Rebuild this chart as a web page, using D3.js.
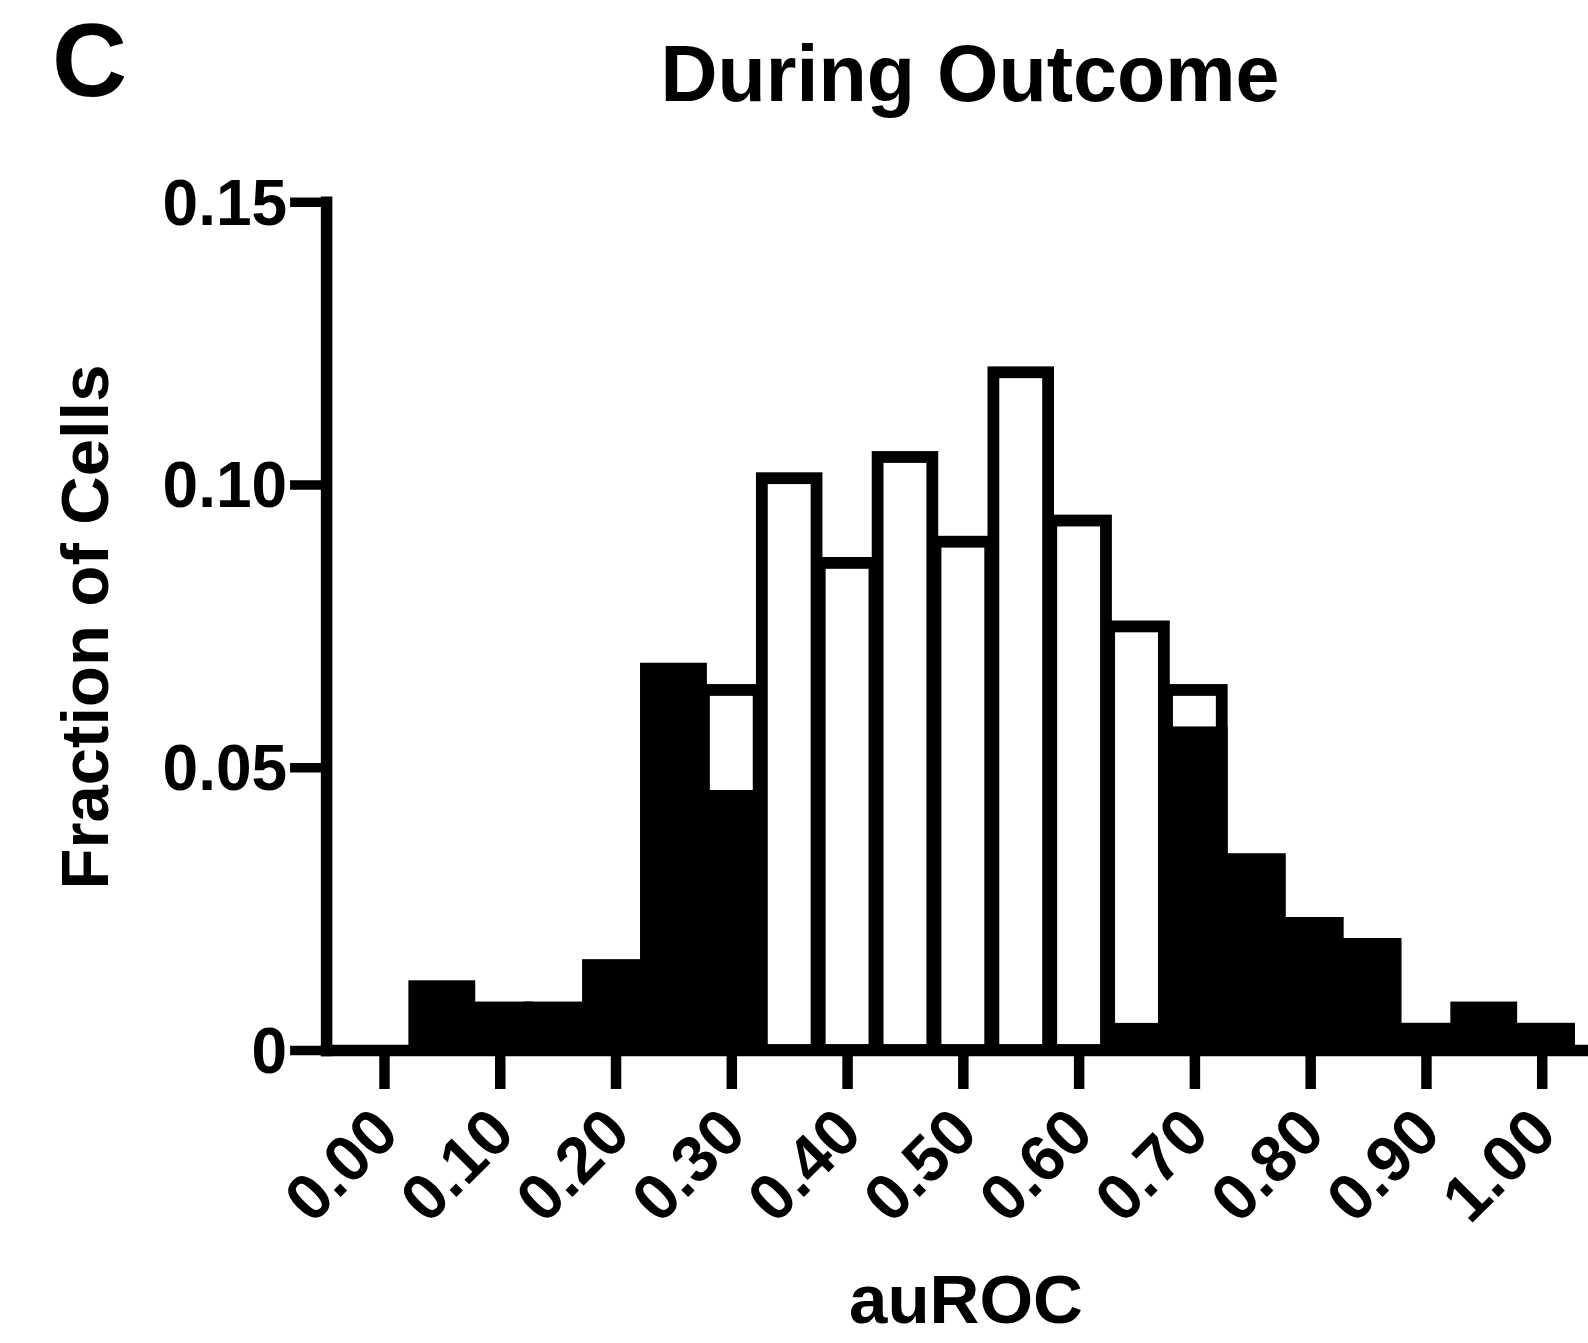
<!DOCTYPE html>
<html>
<head>
<meta charset="utf-8">
<script src="https://cdn.jsdelivr.net/npm/d3@7"></script>
<style>
  html, body { margin: 0; padding: 0; background: #fff; }
  svg { display: block; }
  text { font-family: "Liberation Sans", Arial, Helvetica, sans-serif; font-weight: bold; fill: #000; }
</style>
</head>
<body>
<script>
// ---- Data ----
const binCenters = [0.00, 0.05, 0.10, 0.15, 0.20, 0.25, 0.30, 0.35, 0.40, 0.45, 0.50,
                    0.55, 0.60, 0.65, 0.70, 0.75, 0.80, 0.85, 0.90, 0.95, 1.00];
// All cells (open bars)
const allCells = [0, 0.01124, 0.00749, 0.00749, 0.01498, 0.06742, 0.06367, 0.10112, 0.08614, 0.10487, 0.08989,
                  0.11985, 0.09363, 0.07491, 0.06367, 0.03371, 0.02247, 0.01873, 0.00375, 0.00749, 0.00375];
// Significant cells (filled bars)
const sigCells = [0, 0.01124, 0.00749, 0.00749, 0.01498, 0.06742, 0.04494, 0, 0, 0, 0,
                  0, 0, 0.00375, 0.05618, 0.03371, 0.02247, 0.01873, 0.00375, 0.00749, 0.00375];
const xTickValues = [0.0, 0.1, 0.2, 0.3, 0.4, 0.5, 0.6, 0.7, 0.8, 0.9, 1.0];
const xTickLabels = ["0.00", "0.10", "0.20", "0.30", "0.40", "0.50", "0.60", "0.70", "0.80", "0.90", "1.00"];
const yTickValues = [0, 0.05, 0.10, 0.15];
const yTickLabels = ["0", "0.05", "0.10", "0.15"];
const titleText = "During Outcome";
const panelLetter = "C";
const xLabel = "auROC";
const yLabel = "Fraction of Cells";

// ---- Layout ----
const W = 1588, H = 1343;
const svg = d3.select("body").append("svg").attr("width", W).attr("height", H);

const x = d3.scaleLinear().domain([-0.05, 1.05]).range([326.1, 1599.6]);
const y = d3.scaleLinear().domain([0, 0.15]).range([1050, 201.8]);

const binW = 0.05 * 0.945;
const barStroke = 11.8;

function drawBars(values, fill) {
  const data = binCenters.map((c, i) => ({ c, v: values[i] })).filter(d => d.v > 0);
  svg.append("g").selectAll("rect").data(data).join("rect")
    .attr("x", d => x(d.c - binW / 2))
    .attr("width", d => x(d.c + binW / 2) - x(d.c - binW / 2))
    .attr("y", d => y(d.v))
    .attr("height", d => y(0) - y(d.v))
    .attr("fill", fill)
    .attr("stroke", "#000")
    .attr("stroke-width", barStroke)
    .attr("stroke-linejoin", "miter");
}
drawBars(allCells, "#fff");
drawBars(sigCells, "#000");

// ---- Axes ----
const xAxis = d3.axisBottom(x)
  .tickValues(xTickValues)
  .tickFormat((d, i) => xTickLabels[i])
  .tickSizeOuter(0)
  .tickSizeInner(39);
const gx = svg.append("g").attr("transform", `translate(0,${y(0)})`).call(xAxis);
gx.select(".domain").attr("stroke", "#000").attr("stroke-width", 11.5).attr("stroke-linecap", "square");
gx.selectAll(".tick line").attr("stroke", "#000").attr("stroke-width", 10.5);
gx.selectAll(".tick text")
  .attr("x", 0).attr("y", 0).attr("dy", 0)
  .attr("text-anchor", "end")
  .attr("transform", "translate(17,86) rotate(-45)")
  .style("font-size", "65px")
  .style("font-family", "'Liberation Sans', Arial, Helvetica, sans-serif")
  .style("font-weight", "bold");

const yAxis = d3.axisLeft(y)
  .tickValues(yTickValues)
  .tickFormat((d, i) => yTickLabels[i])
  .tickSizeOuter(0)
  .tickSizeInner(36)
  .tickPadding(3);
const gy = svg.append("g").attr("transform", `translate(${x(-0.05)},0)`).call(yAxis);
gy.select(".domain").attr("stroke", "#000").attr("stroke-width", 11.5).attr("stroke-linecap", "square");
gy.selectAll(".tick line").attr("stroke", "#000").attr("stroke-width", 9.5);
gy.selectAll(".tick text")
  .attr("dy", "0.35em")
  .style("font-size", "64px")
  .style("font-family", "'Liberation Sans', Arial, Helvetica, sans-serif")
  .style("font-weight", "bold");
gx.attr("font-family", null).attr("font-size", null);
gy.attr("font-family", null).attr("font-size", null);

// ---- Labels ----
svg.append("text").attr("x", 52).attr("y", 96).style("font-size", "104px").text(panelLetter);
svg.append("text").attr("x", 970).attr("y", 101).attr("text-anchor", "middle")
  .style("font-size", "79px").text(titleText);
svg.append("text").attr("x", 966).attr("y", 1323).attr("text-anchor", "middle")
  .style("font-size", "69px").text(xLabel);
svg.append("text").attr("transform", "translate(108,627) rotate(-90)").attr("text-anchor", "middle")
  .style("font-size", "67px").text(yLabel);
</script>
</body>
</html>
